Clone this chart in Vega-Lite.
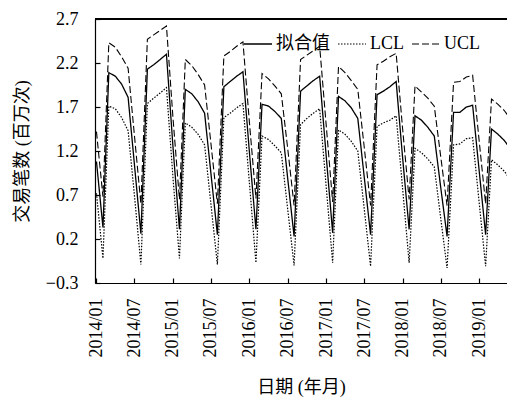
{
  "$schema": "https://vega.github.io/schema/vega-lite/v6.json",
  "width": 412,
  "height": 264,
  "autosize": {"type": "none"},
  "padding": {"left": 95, "top": 19, "right": 0, "bottom": 116},
  "background": "white",
  "config": {
    "font": "Liberation Serif, Noto Sans CJK SC",
    "view": {"stroke": null},
    "axis": {
      "domainColor": "black",
      "domainWidth": 1.2,
      "tickColor": "black",
      "tickSize": -5,
      "tickWidth": 1.2,
      "labelColor": "black",
      "labelFontSize": 18,
      "titleColor": "black",
      "titleFontSize": 18,
      "titleFontWeight": "normal",
      "grid": false
    }
  },
  "data": {
    "values": [
      {"date": "2014-01-01", "拟合值": 1.08, "LCL": 0.72, "UCL": 1.42},
      {"date": "2014-02-01", "拟合值": 0.33, "LCL": -0.02, "UCL": 0.68},
      {"date": "2014-03-01", "拟合值": 2.09, "LCL": 1.71, "UCL": 2.43},
      {"date": "2014-04-01", "拟合值": 2.05, "LCL": 1.68, "UCL": 2.38},
      {"date": "2014-05-01", "拟合值": 1.96, "LCL": 1.58, "UCL": 2.27},
      {"date": "2014-06-01", "拟合值": 1.81, "LCL": 1.43, "UCL": 2.14},
      {"date": "2014-07-01", "拟合值": 1.05, "LCL": 0.70, "UCL": 1.38},
      {"date": "2014-08-01", "拟合值": 0.26, "LCL": -0.09, "UCL": 0.60},
      {"date": "2014-09-01", "拟合值": 2.13, "LCL": 1.74, "UCL": 2.47},
      {"date": "2014-10-01", "拟合值": 2.18, "LCL": 1.80, "UCL": 2.52},
      {"date": "2014-11-01", "拟合值": 2.24, "LCL": 1.86, "UCL": 2.57},
      {"date": "2014-12-01", "拟合值": 2.30, "LCL": 1.92, "UCL": 2.62},
      {"date": "2015-01-01", "拟合值": 1.25, "LCL": 0.90, "UCL": 1.58},
      {"date": "2015-02-01", "拟合值": 0.31, "LCL": -0.02, "UCL": 0.65},
      {"date": "2015-03-01", "拟合值": 1.90, "LCL": 1.52, "UCL": 2.24},
      {"date": "2015-04-01", "拟合值": 1.85, "LCL": 1.47, "UCL": 2.17},
      {"date": "2015-05-01", "拟合值": 1.76, "LCL": 1.39, "UCL": 2.07},
      {"date": "2015-06-01", "拟合值": 1.63, "LCL": 1.27, "UCL": 1.95},
      {"date": "2015-07-01", "拟合值": 0.95, "LCL": 0.60, "UCL": 1.29},
      {"date": "2015-08-01", "拟合值": 0.25, "LCL": -0.09, "UCL": 0.60},
      {"date": "2015-09-01", "拟合值": 1.93, "LCL": 1.58, "UCL": 2.28},
      {"date": "2015-10-01", "拟合值": 1.99, "LCL": 1.63, "UCL": 2.33},
      {"date": "2015-11-01", "拟合值": 2.05, "LCL": 1.69, "UCL": 2.39},
      {"date": "2015-12-01", "拟合值": 2.10, "LCL": 1.74, "UCL": 2.44},
      {"date": "2016-01-01", "拟合值": 1.18, "LCL": 0.83, "UCL": 1.52},
      {"date": "2016-02-01", "拟合值": 0.31, "LCL": -0.07, "UCL": 0.66},
      {"date": "2016-03-01", "拟合值": 1.73, "LCL": 1.37, "UCL": 2.08},
      {"date": "2016-04-01", "拟合值": 1.71, "LCL": 1.33, "UCL": 2.02},
      {"date": "2016-05-01", "拟合值": 1.65, "LCL": 1.26, "UCL": 1.94},
      {"date": "2016-06-01", "拟合值": 1.57, "LCL": 1.18, "UCL": 1.85},
      {"date": "2016-07-01", "拟合值": 0.90, "LCL": 0.55, "UCL": 1.24},
      {"date": "2016-08-01", "拟合值": 0.23, "LCL": -0.10, "UCL": 0.58},
      {"date": "2016-09-01", "拟合值": 1.88, "LCL": 1.50, "UCL": 2.24},
      {"date": "2016-10-01", "拟合值": 1.94, "LCL": 1.57, "UCL": 2.29},
      {"date": "2016-11-01", "拟合值": 2.00, "LCL": 1.63, "UCL": 2.34},
      {"date": "2016-12-01", "拟合值": 2.05, "LCL": 1.68, "UCL": 2.39},
      {"date": "2017-01-01", "拟合值": 1.15, "LCL": 0.80, "UCL": 1.50},
      {"date": "2017-02-01", "拟合值": 0.27, "LCL": -0.07, "UCL": 0.62},
      {"date": "2017-03-01", "拟合值": 1.82, "LCL": 1.44, "UCL": 2.16},
      {"date": "2017-04-01", "拟合值": 1.77, "LCL": 1.39, "UCL": 2.09},
      {"date": "2017-05-01", "拟合值": 1.69, "LCL": 1.31, "UCL": 2.00},
      {"date": "2017-06-01", "拟合值": 1.57, "LCL": 1.20, "UCL": 1.90},
      {"date": "2017-07-01", "拟合值": 0.92, "LCL": 0.56, "UCL": 1.26},
      {"date": "2017-08-01", "拟合值": 0.25, "LCL": -0.11, "UCL": 0.58},
      {"date": "2017-09-01", "拟合值": 1.84, "LCL": 1.48, "UCL": 2.18},
      {"date": "2017-10-01", "拟合值": 1.88, "LCL": 1.52, "UCL": 2.22},
      {"date": "2017-11-01", "拟合值": 1.93, "LCL": 1.55, "UCL": 2.27},
      {"date": "2017-12-01", "拟合值": 1.99, "LCL": 1.60, "UCL": 2.31},
      {"date": "2018-01-01", "拟合值": 1.12, "LCL": 0.77, "UCL": 1.45},
      {"date": "2018-02-01", "拟合值": 0.31, "LCL": -0.07, "UCL": 0.65},
      {"date": "2018-03-01", "拟合值": 1.60, "LCL": 1.23, "UCL": 1.94},
      {"date": "2018-04-01", "拟合值": 1.55, "LCL": 1.18, "UCL": 1.87},
      {"date": "2018-05-01", "拟合值": 1.47, "LCL": 1.11, "UCL": 1.80},
      {"date": "2018-06-01", "拟合值": 1.37, "LCL": 1.02, "UCL": 1.71},
      {"date": "2018-07-01", "拟合值": 0.80, "LCL": 0.45, "UCL": 1.15},
      {"date": "2018-08-01", "拟合值": 0.23, "LCL": -0.13, "UCL": 0.58},
      {"date": "2018-09-01", "拟合值": 1.64, "LCL": 1.27, "UCL": 1.98},
      {"date": "2018-10-01", "拟合值": 1.64, "LCL": 1.28, "UCL": 1.99},
      {"date": "2018-11-01", "拟合值": 1.70, "LCL": 1.34, "UCL": 2.04},
      {"date": "2018-12-01", "拟合值": 1.72, "LCL": 1.35, "UCL": 2.06},
      {"date": "2019-01-01", "拟合值": 0.98, "LCL": 0.62, "UCL": 1.32},
      {"date": "2019-02-01", "拟合值": 0.25, "LCL": -0.11, "UCL": 0.60},
      {"date": "2019-03-01", "拟合值": 1.45, "LCL": 1.10, "UCL": 1.79},
      {"date": "2019-04-01", "拟合值": 1.39, "LCL": 1.04, "UCL": 1.73},
      {"date": "2019-05-01", "拟合值": 1.32, "LCL": 0.97, "UCL": 1.66},
      {"date": "2019-06-01", "拟合值": 1.22, "LCL": 0.87, "UCL": 1.56}
    ]
  },
  "layer": [
    {
      "transform": [{"fold": ["拟合值", "LCL", "UCL"], "as": ["series", "value"]}],
      "mark": {"type": "line", "color": "black", "clip": true},
      "encoding": {
        "x": {
          "field": "date",
          "type": "temporal",
          "scale": {
            "type": "utc",
            "domain": [
              {"year": 2013, "month": 12, "date": 25, "utc": true},
              {"year": 2019, "month": 5, "date": 14, "utc": true}
            ]
          },
          "axis": {
            "title": "日期 (年月)",
            "labelExpr": "utcFormat(datum.value, '%Y/%m')",
            "labelAngle": 270,
            "labelAlign": "right",
            "labelBaseline": "middle",
            "labelPadding": 20,
            "titlePadding": 21,
            "values": [
              {"year": 2014, "month": 1, "date": 1, "utc": true},
              {"year": 2014, "month": 7, "date": 1, "utc": true},
              {"year": 2015, "month": 1, "date": 1, "utc": true},
              {"year": 2015, "month": 7, "date": 1, "utc": true},
              {"year": 2016, "month": 1, "date": 1, "utc": true},
              {"year": 2016, "month": 7, "date": 1, "utc": true},
              {"year": 2017, "month": 1, "date": 1, "utc": true},
              {"year": 2017, "month": 7, "date": 1, "utc": true},
              {"year": 2018, "month": 1, "date": 1, "utc": true},
              {"year": 2018, "month": 7, "date": 1, "utc": true},
              {"year": 2019, "month": 1, "date": 1, "utc": true}
            ]
          }
        },
        "y": {
          "field": "value",
          "type": "quantitative",
          "scale": {"domain": [-0.3, 2.7], "nice": false, "zero": false},
          "axis": {
            "title": "交易笔数 (百万次)",
            "values": [-0.3, 0.2, 0.7, 1.2, 1.7, 2.2, 2.7],
            "format": ".1f",
            "labelPadding": 22,
            "titlePadding": 14
          }
        },
        "strokeDash": {
          "field": "series",
          "type": "nominal",
          "scale": {
            "domain": ["拟合值", "LCL", "UCL"],
            "range": [[1, 0], [1.5, 1.5], [7, 3]]
          },
          "legend": {
            "title": null,
            "orient": "none",
            "direction": "horizontal",
            "legendX": 148,
            "legendY": 10,
            "symbolType": "stroke",
            "symbolSize": 784,
            "symbolStrokeColor": "black",
            "labelFontSize": 18,
            "labelColor": "black",
            "labelOffset": 3,
            "columnPadding": 5
          }
        },
        "strokeWidth": {
          "field": "series",
          "type": "nominal",
          "scale": {
            "domain": ["拟合值", "LCL", "UCL"],
            "range": [1.3, 1.1, 1.8]
          }
        }
      }
    },
    {
      "mark": {"type": "rule", "color": "black", "strokeWidth": 1.2},
      "encoding": {"y": {"datum": 2.7}}
    }
  ]
}
